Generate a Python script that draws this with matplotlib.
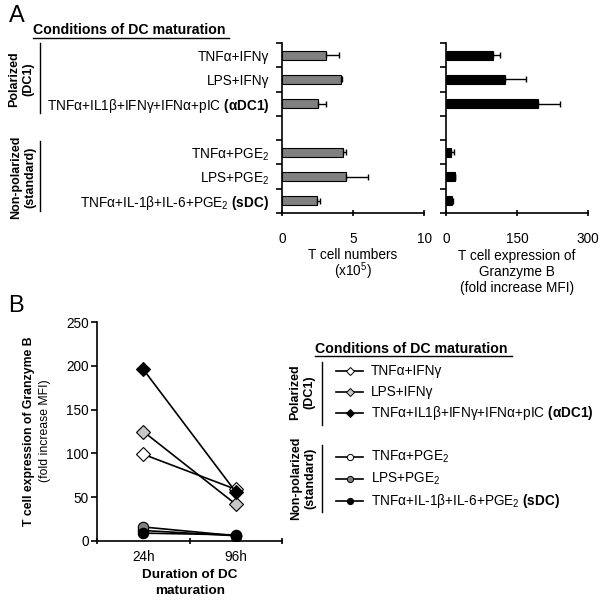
import numpy as np
import matplotlib.pyplot as plt

plt.rcParams['font.family'] = ['Liberation Sans', 'DejaVu Sans']
plt.rcParams['mathtext.fontset'] = 'custom'
plt.rcParams['mathtext.rm'] = 'Liberation Sans'
plt.rcParams['mathtext.it'] = 'Liberation Sans:italic'
plt.rcParams['mathtext.bf'] = 'Liberation Sans:bold'
plt.rcParams['font.size'] = 9.8

# ---- data ----
conditions = ['TNFα+IFNγ', 'LPS+IFNγ',
              r'TNFα+IL1β+IFNγ+IFNα+pIC $\mathbf{(αDC1)}$',
              'TNFα+PGE$_2$', 'LPS+PGE$_2$',
              r'TNFα+IL-1β+IL-6+PGE$_2$ $\mathbf{(sDC)}$']
slots = [0, 1, 2, 4, 5, 6]          # row 3 is the gap between groups

t_cells = [3.08, 4.15, 2.54, 4.3, 4.5, 2.47]        # x10^5
t_cells_err = [0.92, 0.05, 0.54, 0.2, 1.55, 0.23]
gzb = [100, 125, 195, 11, 18, 13]                   # fold increase MFI
gzb_err = [15, 45, 45, 5, 2, 1]

times = ['24h', '96h']
gzb_24h = [99, 125, 196, 12, 16, 9]
gzb_96h = [59, 42, 56, 6, 6, 7]
markers = ['D', 'D', 'D', 'o', 'o', 'o']
faces = ['white', '#c8c8c8', 'black', 'white', '#808080', 'black']

W, H = 605, 601
fig = plt.figure(figsize=(W / 100, H / 100), dpi=100)


def px_axes(l, t, r, b):
    return fig.add_axes([l / W, 1 - b / H, (r - l) / W, (b - t) / H])


def style(ax):
    for s in ['top', 'right']:
        ax.spines[s].set_visible(False)
    for s in ['left', 'bottom']:
        ax.spines[s].set_linewidth(1.2)


########################################################
# Panel A - horizontal bars
########################################################
a1 = px_axes(282, 43, 424, 213)
a2 = px_axes(446, 43, 588, 213)
for ax, vals, errs, col, xmax in [(a1, t_cells, t_cells_err, '#808080', 10),
                                  (a2, gzb, gzb_err, 'black', 300)]:
    style(ax)
    ax.barh(slots, vals, height=0.38, color=col, edgecolor='black', linewidth=0.8)
    ax.errorbar(vals, slots, xerr=[np.zeros(len(vals)), errs], fmt='none',
                ecolor='black', elinewidth=1.0, capsize=2.5, capthick=1.0)
    ax.set_xlim(0, xmax)
    ax.set_xticks([0, xmax / 2, xmax])
    ax.set_xticklabels(['0', str(int(xmax / 2)), str(xmax)])
    ax.set_ylim(6.5, -0.5)
    ax.set_yticks(np.arange(-0.5, 7, 1))
    ax.set_yticklabels([])
    ax.tick_params(axis='y', which='major', direction='out', length=4, width=1.2)
    ax.tick_params(axis='x', direction='inout', length=5, width=1.2, pad=11)

a1.set_yticks(slots, minor=True)
a1.set_yticklabels(conditions, minor=True)
a1.tick_params(axis='y', which='minor', length=0, pad=9)

########################################################
# Panel B - line plot
########################################################
b = px_axes(97, 322, 282, 541)
style(b)
for y0, y1, m, fc in zip(gzb_24h, gzb_96h, markers, faces):
    ms = 7 if m == 'D' else 7.5
    b.plot([0.5, 1.5], [y0, y1], color='black', lw=1.2, marker=m, ms=ms,
           mfc=fc, mec='black', mew=0.8)
b.set_xlim(0, 2)
b.set_ylim(0, 250)
b.set_yticks(range(0, 251, 50))
b.set_xticks([0, 1, 2])
b.set_xticklabels([])
b.set_xticks([0.5, 1.5], minor=True)
b.set_xticklabels(times, minor=True)
b.tick_params(axis='x', which='major', direction='inout', length=5, width=1.2)
b.tick_params(axis='x', which='minor', length=0, pad=6.5, labelsize=9.8)
b.tick_params(axis='y', direction='out', length=4, width=1.2, pad=2, labelsize=9.8)

########################################################
# annotations (pixel coords overlay)
########################################################
ov = fig.add_axes([0, 0, 1, 1])
ov.set_xlim(0, W)
ov.set_ylim(H, 0)
ov.axis('off')

ov.text(9, 16, 'A', fontsize=17, va='center', ha='left')
ov.text(8, 306, 'B', fontsize=17, va='center', ha='left')

# panel A titles / groups
ov.text(33, 30, 'Conditions of DC maturation', fontsize=10.2,
        fontweight='bold', va='center')
ov.plot([33, 229], [38, 38], color='black', lw=1)
ov.text(21, 79, 'Polarized\n(DC1)', rotation=90, fontsize=9, fontweight='bold',
        ha='center', va='center', linespacing=1.3)
ov.plot([40, 40], [43, 113], color='black', lw=1)
ov.text(23, 177, 'Non-polarized\n(standard)', rotation=90, fontsize=9,
        fontweight='bold', ha='center', va='center', linespacing=1.3)
ov.plot([40, 40], [141, 211], color='black', lw=1)

for yy, line in zip([259, 276], ['T cell numbers', '(x10$^5$)']):
    ov.text(353, yy, line, ha='center', va='baseline')
for yy, line in zip([260, 276, 292], ['T cell expression of', 'Granzyme B',
                                      '(fold increase MFI)']):
    ov.text(517, yy, line, ha='center', va='baseline')

# panel B axis labels
ov.text(29, 431, 'T cell expression of Granzyme B', rotation=90,
        fontsize=8.8, fontweight='bold', ha='center', va='center')
ov.text(45, 431, '(fold increase MFI)', rotation=90, fontsize=8.8,
        ha='center', va='center')
ov.text(190, 578, 'Duration of DC', fontsize=9.7, fontweight='bold',
        ha='center', va='baseline')
ov.text(190, 594, 'maturation', fontsize=9.7, fontweight='bold',
        ha='center', va='baseline')

# panel B legend
ov.text(315, 349, 'Conditions of DC maturation', fontsize=10.2,
        fontweight='bold', va='center')
ov.plot([315, 512], [356, 356], color='black', lw=1)
leg_y = [371, 392, 413, 457, 479, 501]
for yy, lab, m, fc in zip(leg_y, conditions, markers, faces):
    ov.plot([336, 349.5, 363], [yy, yy, yy], color='black', lw=1.2, marker=m,
            markevery=[1], ms=4.5, mfc=fc, mec='black', mew=0.7)
    ov.text(371, yy, lab, va='center', ha='left')
ov.text(302, 392, 'Polarized\n(DC1)', rotation=90, fontsize=9, fontweight='bold',
        ha='center', va='center', linespacing=1.3)
ov.plot([322, 322], [362, 425], color='black', lw=1)
ov.text(303, 478, 'Non-polarized\n(standard)', rotation=90, fontsize=9,
        fontweight='bold', ha='center', va='center', linespacing=1.3)
ov.plot([322, 322], [445, 512], color='black', lw=1)

fig.savefig('out.png', dpi=100)
